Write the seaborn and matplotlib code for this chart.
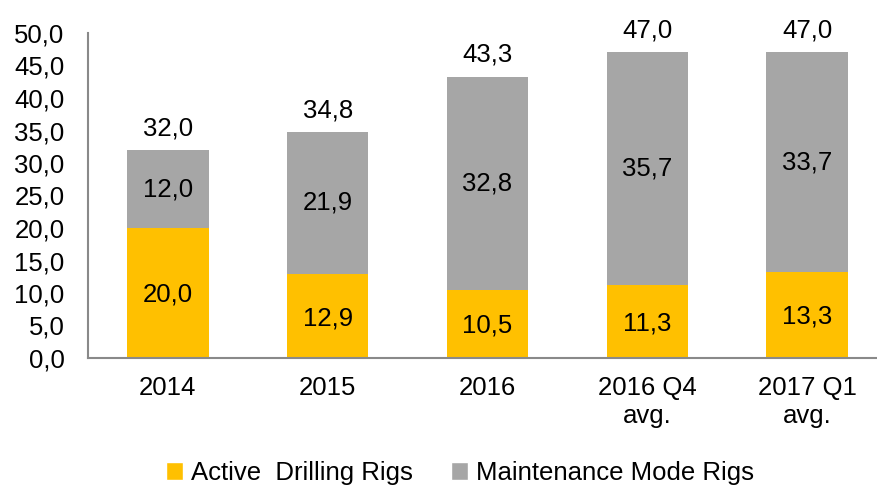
import matplotlib
matplotlib.use('Agg')
import matplotlib.pyplot as plt
import seaborn as sns
import pandas as pd
import numpy as np
from matplotlib.patches import Patch

categories = ['2014', '2015', '2016', '2016 Q4\navg.', '2017 Q1\navg.']
activeRigs = [20.0, 12.9, 10.5, 11.3, 13.3]
maintenanceRigs = [12.0, 21.9, 32.8, 35.7, 33.7]
totals = [32.0, 34.8, 43.3, 47.0, 47.0]
yTicks = [0, 5, 10, 15, 20, 25, 30, 35, 40, 45, 50]

yellow = '#FFC000'
gray = '#A6A6A6'
axisGray = '#898989'

def fmtNum(v):
    return f'{v:.1f}'.replace('.', ',')

sns.set_style('white')
plt.rcParams['font.family'] = ['Liberation Sans', 'DejaVu Sans']
plt.rcParams['text.color'] = 'black'
plt.rcParams['xtick.color'] = 'black'
plt.rcParams['ytick.color'] = 'black'

fs = 18.5

df = pd.DataFrame({'category': categories, 'active': activeRigs,
                   'maintenance': maintenanceRigs, 'total': totals})

fig = plt.figure(figsize=(8.78, 4.88), dpi=100)
ax = fig.add_axes([88 / 878, (488 - 358) / 488, 790 / 878, (358 - 33) / 488])

barWidth = 0.51
# total height drawn as gray, active drawn on top in yellow
sns.barplot(data=df, x='category', y='total', color=gray, width=barWidth,
            saturation=1, ax=ax, edgecolor='none')
sns.barplot(data=df, x='category', y='active', color=yellow, width=barWidth,
            saturation=1, ax=ax, edgecolor='none')

for i, row in df.iterrows():
    ax.text(i, row['active'] / 2 - 0.3, fmtNum(row['active']), ha='center', va='center', fontsize=fs)
    ax.text(i, row['active'] + row['maintenance'] / 2, fmtNum(row['maintenance']),
            ha='center', va='center', fontsize=fs)
    ax.text(i, row['total'] + 1.5, fmtNum(row['total']), ha='center', va='bottom', fontsize=fs)

ax.set_ylim(0, 50)
ax.set_xlim(-0.5, 4.5 - 9 / 159.75)
ax.set_yticks(yTicks)
ax.set_yticklabels([fmtNum(t) for t in yTicks])
ax.set_xlabel('')
ax.set_ylabel('')
ax.tick_params(axis='both', labelsize=fs, length=0)
ax.tick_params(axis='y', pad=17)
ax.tick_params(axis='x', pad=13)

for s in ['top', 'right']:
    ax.spines[s].set_visible(False)
for s in ['left', 'bottom']:
    ax.spines[s].set_color(axisGray)
    ax.spines[s].set_linewidth(1.5)

handles = [Patch(facecolor=yellow, label='Active  Drilling Rigs'),
           Patch(facecolor=gray, label='Maintenance Mode Rigs')]
fig.legend(handles=handles, loc='center', bbox_to_anchor=(0.524, 15 / 488), ncol=2,
           frameon=False, fontsize=fs, handlelength=0.65, handleheight=0.65,
           handletextpad=0.3, columnspacing=1.5)

fig.savefig('out.png', dpi=100)
